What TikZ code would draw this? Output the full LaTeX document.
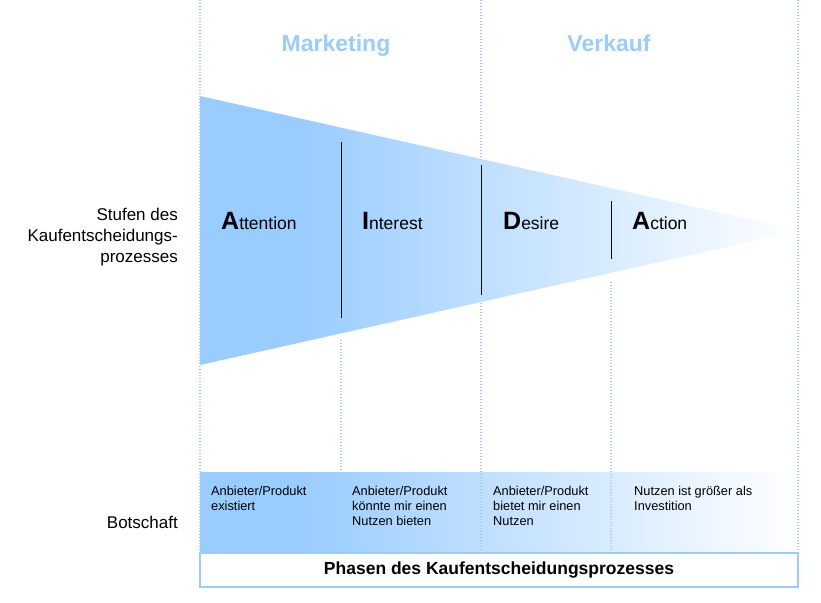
\documentclass[tikz,border=0pt]{standalone}
\usepackage{fontspec}
\setmainfont{Liberation Sans}
\usepackage{tikz}
\usetikzlibrary{positioning}
\definecolor{aidablue}{RGB}{153,204,255}
\pgfdeclarehorizontalshading{aidafade}{100bp}{color(0bp)=(aidablue); color(33bp)=(aidablue); color(75bp)=(white); color(100bp)=(white)}
\newcommand\initcap[1]{{\bfseries\fontsize{25}{25}\selectfont #1}}

\begin{document}
\begin{tikzpicture}[x=1pt, y=-1pt,
    phase/.style={anchor=base, font=\bfseries\fontsize{23}{27}\selectfont, text=aidablue},
    stage/.style={anchor=base west, inner sep=0, font=\fontsize{17.5}{20}\selectfont},
    side/.style={anchor=east, align=right, inner sep=0, font=\fontsize{17}{21}\selectfont},
    msg/.style={anchor=north west, align=left, inner sep=0, font=\fontsize{12.8}{15}\selectfont},
    guide/.style={aidablue, line width=1.2pt, dash pattern=on 1.2pt off 1.8pt},
    divider/.style={black, line width=0.8pt}]
		\useasboundingbox (0,0) rectangle (821,602);
		% Botschaft band and dotted column guides
		\node[shading=aidafade, minimum width=598pt, minimum height=80pt, inner sep=0] (band) at (499,512) {};
		\draw[guide] (200,0) -- (200,552);
		\draw[guide] (481,0) -- (481,552);
		\draw[guide] (798,0) -- (798,552);
		\draw[guide] (341,340) -- (341,552);
		\draw[guide] (611,282) -- (611,552);
		
		\shade[shading=aidafade] (200,96) -- (800,230.5) -- (200,365) -- cycle;
		\draw[divider] (341,142) -- (341,318);
		\draw[divider] (481,165) -- (481,295);
		\draw[divider] (611,201) -- (611,259);
		
		\node[phase] (marketing) at (336,52) {Marketing};
		\node[phase] (verkauf) at (609,52) {Verkauf};
		
		\node[stage] (attention) at (221,229) {\initcap{A}ttention};
		\node[stage] (interest) at (362,229) {\initcap{I}nterest};
		\node[stage] (desire) at (503,229) {\initcap{D}esire};
		\node[stage] (action) at (632,229) {\initcap{A}ction};
		
		\node[side] (stufen) at (178,237) {Stufen des\\Kaufentscheidungs-\\prozesses};
		\node[side] (botschaft) at (178,522) {Botschaft};
		
		\node[msg] (msgA) at (211,486) {Anbieter/Produkt\\existiert};
		\node[msg] (msgB) at (352,486) {Anbieter/Produkt\\könnte mir einen\\Nutzen bieten};
		\node[msg] (msgC) at (493,486) {Anbieter/Produkt\\bietet mir einen\\Nutzen};
		\node[msg] (msgD) at (634,486) {Nutzen ist größer als\\Investition};
		
		\node[draw=aidablue, line width=1.5pt, fill=white, minimum width=598pt, minimum height=34pt, font=\bfseries\fontsize{17.5}{20}\selectfont] (phasen) at (499,570) {Phasen des Kaufentscheidungsprozesses};
	\end{tikzpicture}
\end{document}
